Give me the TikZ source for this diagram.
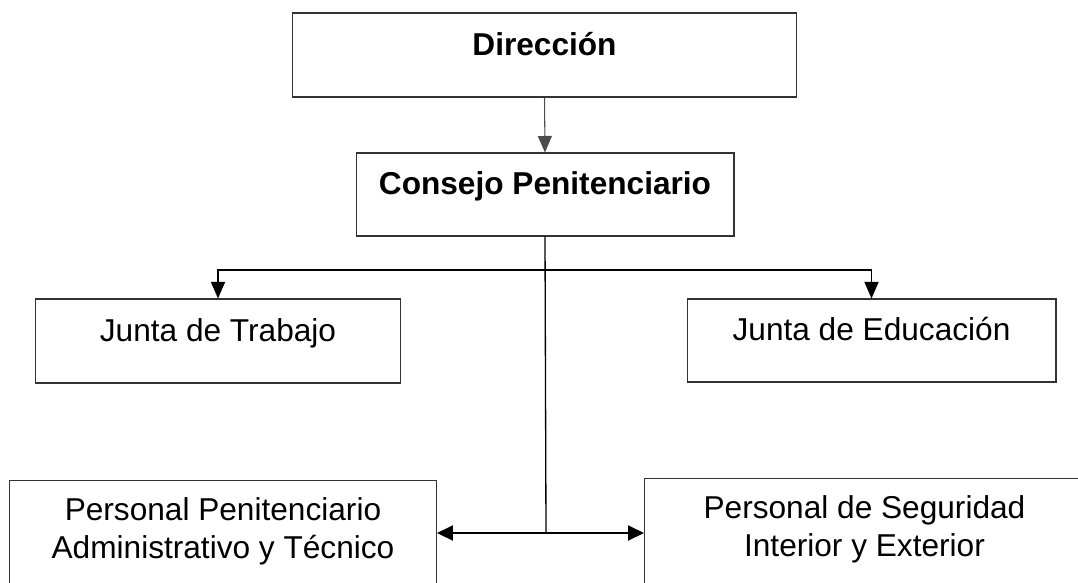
\documentclass[tikz,border=0pt]{standalone}
\usepackage{fontspec}
\setmainfont{Liberation Sans}
\usetikzlibrary{arrows.meta}

\tikzset{
  caja/.style={draw=black!80, line width=0.6pt, inner sep=0pt, align=center},
  flecha/.style={-{Triangle[length=0.33cm,width=0.28cm]}},
}

\begin{document}
\begin{tikzpicture}[x=0.02cm,y=-0.02cm]
\useasboundingbox (0,0) rectangle (1078,582);
\clip (0,0) rectangle (1078,582);
\fontsize{18pt}{21.6pt}\selectfont

\node[caja, minimum width=10.1cm, text height=0.84cm, text depth=0.84cm] (dir) at (544.5,55) {\textbf{Dirección}};
\node[caja, minimum width=7.56cm, text height=0.83cm, text depth=0.83cm] (cons) at (545,194.5) {\textbf{Consejo Penitenciario}};
\node[caja, minimum width=7.32cm, text height=0.84cm, text depth=0.84cm] (jt) at (218,341) {Junta de Trabajo};
\node[caja, minimum width=7.38cm, text height=0.83cm, text depth=0.83cm] (je) at (871.5,340.5) {Junta de Educación};

\node[caja, anchor=north west, minimum width=8.54cm, text height=0.8cm, text depth=3cm] (ppat) at (9,480)
  {\parbox[t]{8cm}{\centering Personal Penitenciario\\Administrativo y Técnico}};
\node[caja, anchor=north west, minimum width=8.8cm, text height=0.8cm, text depth=3cm] (psie) at (644,478)
  {\parbox[t]{8cm}{\centering Personal de Seguridad\\Interior y Exterior}};

\coordinate (bar) at (545,270);
\coordinate (hub) at (546,533);

\draw[flecha, draw=black!70, line width=0.6pt] (dir.south) -- (cons.north);
\draw[line width=0.75pt] (cons.south) -- (hub);
\draw[flecha, line width=0.8pt] (bar) -| (jt.north);
\draw[flecha, line width=0.8pt] (bar) -| (je.north);
\draw[{Triangle[length=0.32cm,width=0.3cm]}-{Triangle[length=0.32cm,width=0.3cm]}, line width=1.1pt]
  (ppat.north east |- hub) -- (psie.north west |- hub);
\end{tikzpicture}
\end{document}
